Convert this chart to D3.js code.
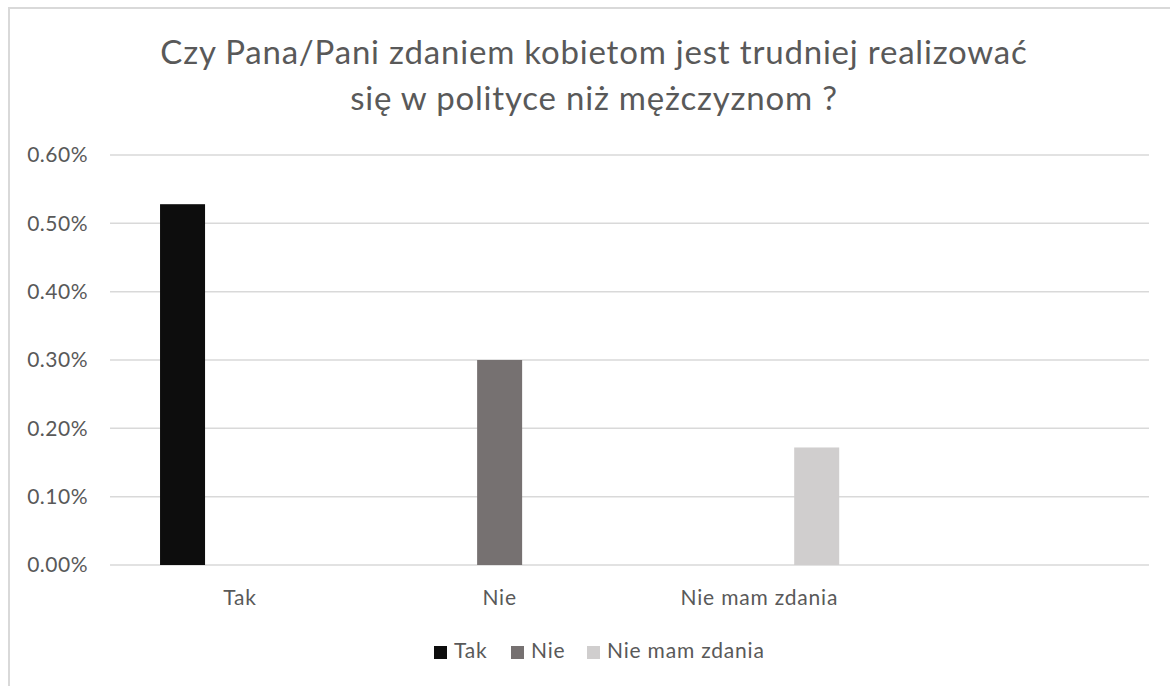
<!DOCTYPE html>
<html>
<head>
<meta charset="utf-8">
<script src="https://cdn.jsdelivr.net/npm/d3@7/dist/d3.min.js"></script>
<style>
  html, body { margin: 0; padding: 0; background: #fff; }
  svg { display: block; font-family: Lato, "Open Sans", sans-serif; }
</style>
</head>
<body>
<svg id="chart" width="1170" height="686"></svg>
<script>
// ---- data ----
const titleLines = ["Czy Pana/Pani zdaniem kobietom jest trudniej realizować", "się w polityce niż mężczyznom ?"];
const categories = ["Tak", "Nie", "Nie mam zdania", ""];
const seriesNames = ["Tak", "Nie", "Nie mam zdania"];
const takValues = [0.00528, 0, 0, 0];
const nieValues = [0, 0.0030, 0, 0];
const nieMamZdaniaValues = [0, 0, 0.00172, 0];
const yTicks = [0, 0.001, 0.002, 0.003, 0.004, 0.005, 0.006];
const seriesColors = ["#0d0d0d", "#767171", "#d0cece"];

const seriesValues = [takValues, nieValues, nieMamZdaniaValues];

// ---- layout ----
const svg = d3.select("#chart");
const plot = { left: 110, right: 1149, top: 155, bottom: 565 };
const textColor = "#595959";
const gridColor = "#d9d9d9";

// chart border
svg.append("path")
  .attr("d", "M9,686 V8 H1170")
  .attr("fill", "none")
  .attr("stroke", gridColor)
  .attr("stroke-width", 2);

// title
svg.append("text")
  .attr("text-anchor", "middle")
  .attr("fill", textColor)
  .attr("font-size", 33)
  .attr("letter-spacing", 0.8)
  .selectAll("tspan")
  .data(titleLines)
  .join("tspan")
  .attr("x", 594)
  .attr("y", (d, i) => 64 + i * 46)
  .text(d => d);

// scales
const y = d3.scaleLinear().domain([0, 0.006]).range([plot.bottom, plot.top]);
const x0 = d3.scaleBand().domain(categories).range([plot.left, plot.right]).padding(0);
const clusterW = 172;
const x1 = d3.scaleBand().domain(seriesNames)
  .range([(x0.bandwidth() - clusterW) / 2, (x0.bandwidth() + clusterW) / 2])
  .paddingInner(0.215).paddingOuter(0.1075);

// gridlines
svg.append("g")
  .selectAll("line")
  .data(yTicks)
  .join("line")
  .attr("x1", plot.left)
  .attr("x2", plot.right)
  .attr("y1", d => y(d))
  .attr("y2", d => y(d))
  .attr("stroke", gridColor)
  .attr("stroke-width", 1.5);

// y axis labels
const yAxis = svg.append("g")
  .attr("transform", `translate(${plot.left - 22},0)`)
  .call(d3.axisLeft(y).tickValues(yTicks).tickFormat(d3.format(".2%")).tickSize(0).tickPadding(0));
yAxis.select(".domain").remove();
yAxis.selectAll("text")
  .attr("fill", textColor)
  .attr("font-size", 21)
  .attr("letter-spacing", 0.5)
  .attr("font-family", "Lato, sans-serif");

// x axis labels
const xAxis = svg.append("g")
  .attr("transform", `translate(0,${plot.bottom})`)
  .call(d3.axisBottom(x0).tickSize(0).tickPadding(0));
xAxis.select(".domain").remove();
xAxis.selectAll("text")
  .attr("fill", textColor)
  .attr("font-size", 21)
  .attr("letter-spacing", 0.8)
  .attr("font-family", "Lato, sans-serif")
  .attr("dy", null)
  .attr("y", 40);

// bars
const groups = svg.append("g")
  .selectAll("g")
  .data(seriesNames)
  .join("g")
  .attr("fill", (d, i) => seriesColors[i]);

groups.selectAll("rect")
  .data((s, si) => categories.map((c, ci) => ({ s, c, v: seriesValues[si][ci] })))
  .join("rect")
  .filter(d => d.v > 0)
  .attr("x", d => x0(d.c) + x1(d.s))
  .attr("width", x1.bandwidth())
  .attr("y", d => y(d.v))
  .attr("height", d => y(0) - y(d.v));

// legend
const legendItems = [
  { name: seriesNames[0], color: seriesColors[0], x: 434 },
  { name: seriesNames[1], color: seriesColors[1], x: 511 },
  { name: seriesNames[2], color: seriesColors[2], x: 587 }
];
const lg = svg.append("g").selectAll("g").data(legendItems).join("g")
  .attr("transform", d => `translate(${d.x},646)`);
lg.append("rect").attr("width", 13).attr("height", 13).attr("fill", d => d.color);
lg.append("text")
  .attr("x", 20).attr("y", 12)
  .attr("fill", textColor)
  .attr("font-size", 21)
  .attr("letter-spacing", 0.8)
  .text(d => d.name);
</script>
</body>
</html>
